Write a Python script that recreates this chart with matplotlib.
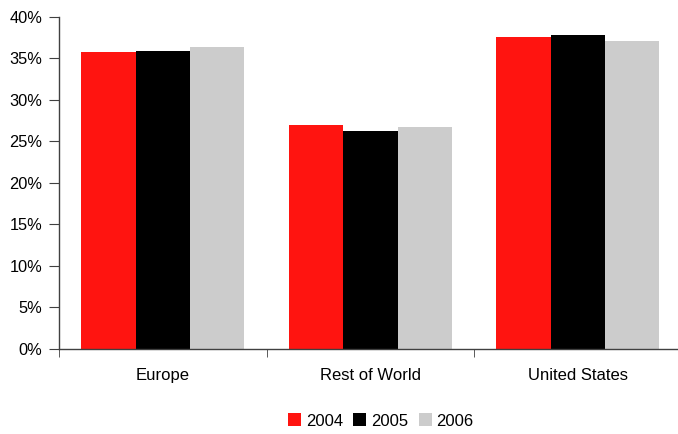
import matplotlib
matplotlib.use("Agg")
import matplotlib.pyplot as plt
import numpy as np
from matplotlib.ticker import FuncFormatter, FixedLocator

plt.rcParams['font.family'] = ['Liberation Sans', 'DejaVu Sans']

categories = ["Europe", "Rest of World", "United States"]
years = ["2004", "2005", "2006"]
values_2004 = [35.7, 27.0, 37.6]
values_2005 = [35.9, 26.2, 37.8]
values_2006 = [36.3, 26.7, 37.1]
colors = ["#FF1410", "#000000", "#CCCCCC"]

fig = plt.figure(figsize=(6.78, 4.34), dpi=100)
ax = fig.add_axes([59.2 / 678, 85 / 434, 622.5 / 678, 332.3 / 434])

x = np.arange(len(categories))
width = 0.262
series = [values_2004, values_2005, values_2006]
for i, (vals, yr, c) in enumerate(zip(series, years, colors)):
    ax.bar(x + (i - 1) * width, vals, width, color=c, label=yr, linewidth=0)

ax.set_xlim(-0.5, 2.5)
ax.set_ylim(0, 40)
ax.set_yticks(np.arange(0, 41, 5))
ax.yaxis.set_major_formatter(FuncFormatter(lambda v, p: f"{int(v)}%"))

ax.set_xticks(x)
ax.set_xticklabels(categories)
ax.xaxis.set_minor_locator(FixedLocator([-0.5, 0.5, 1.5, 2.5]))
ax.tick_params(axis='x', which='major', length=0, pad=14, labelsize=12, colors='#000000')
ax.tick_params(axis='x', which='minor', length=6, direction='out', color='#404040')
ax.tick_params(axis='y', length=7, direction='out', color='#404040', labelsize=11.8, pad=5)

for s in ['top', 'right']:
    ax.spines[s].set_visible(False)
for s in ['left', 'bottom']:
    ax.spines[s].set_color('#404040')
    ax.spines[s].set_linewidth(1)

ax.legend(loc='center', bbox_to_anchor=(381 / 678, (434 - 421) / 434),
          bbox_transform=fig.transFigure, ncol=3, frameon=False,
          fontsize=12, handlelength=0.78, handleheight=0.78,
          handletextpad=0.3, columnspacing=0.6, borderpad=0)

fig.savefig("out.png", dpi=100)
